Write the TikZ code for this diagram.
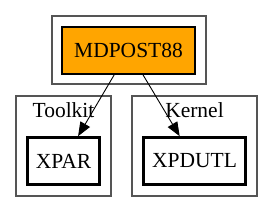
\documentclass[tikz,border=0pt]{standalone}
\usepackage{fontspec}
\setmainfont{Liberation Serif}
\usetikzlibrary{arrows.meta}
\definecolor{clustergray}{HTML}{555555}
\definecolor{modorange}{HTML}{FFA500}
\tikzset{
  cluster/.style={draw=clustergray, line width=1.5pt},
  modbox/.style={draw, line width=1.3pt, minimum height=47pt, inner sep=0pt, font=\fontsize{21.5}{24}\selectfont},
  boldbox/.style={modbox, line width=2.6pt},
  dep/.style={-{Triangle[length=14pt,width=11pt]}, line width=0.9pt}
}
\begin{document}
\begin{tikzpicture}[x=1pt,y=1pt]
  \useasboundingbox (0,0) rectangle (273,212);
  \draw[cluster] (52,128) rectangle (206,196);
  \draw[cluster] (16,16) rectangle (111,116);
  \draw[cluster] (132,16) rectangle (257,116);

\node[font=\fontsize{21.5}{24}\selectfont] (toolkit) at (63.5,102){Toolkit};
\node[font=\fontsize{21.5}{24}\selectfont] (kernel) at (194.5,102){Kernel};

  \node[modbox, fill=modorange, minimum width=133pt] (mdpost) at (128.5,161.5){MDPOST88};
  \node[boldbox, minimum width=72pt] (xpar) at (63.5,51){XPAR};
  \node[boldbox, minimum width=102pt] (xpdutl) at (194.5,51){XPDUTL};

  \draw[dep] (mdpost) -- (xpar);
  \draw[dep] (mdpost) -- (xpdutl);
\end{tikzpicture}
\end{document}
